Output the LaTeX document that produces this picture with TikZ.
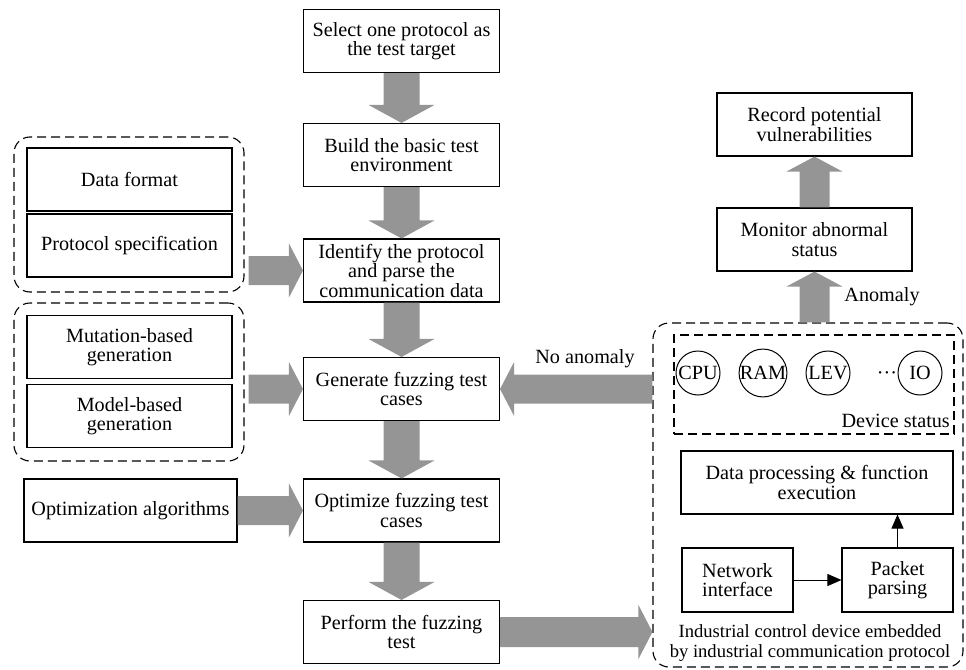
\documentclass[tikz,border=0pt]{standalone}
\usepackage{fontspec}
\setmainfont{Liberation Serif}
\usetikzlibrary{calc,arrows.meta}
\definecolor{fatgray}{HTML}{959595}
\newcommand\fatdown[5]{\fill[fatgray] ($(#1)+(-#3,0)$) -- ($(#2)+(-#3,-#5)$) -- ($(#2)+(-#4,-#5)$) -- (#2) -- ($(#2)+(#4,-#5)$) -- ($(#2)+(#3,-#5)$) -- ($(#1)+(#3,0)$) -- cycle;}
\newcommand\fatup[5]{\fill[fatgray] ($(#1)+(-#3,0)$) -- ($(#2)+(-#3,#5)$) -- ($(#2)+(-#4,#5)$) -- (#2) -- ($(#2)+(#4,#5)$) -- ($(#2)+(#3,#5)$) -- ($(#1)+(#3,0)$) -- cycle;}
\newcommand\fatright[5]{\fill[fatgray] ($(#1)+(0,-#3)$) -- ($(#2)+(-#5,-#3)$) -- ($(#2)+(-#5,-#4)$) -- (#2) -- ($(#2)+(-#5,#4)$) -- ($(#2)+(-#5,#3)$) -- ($(#1)+(0,#3)$) -- cycle;}
\newcommand\fatleft[5]{\fill[fatgray] ($(#1)+(0,-#3)$) -- ($(#2)+(#5,-#3)$) -- ($(#2)+(#5,-#4)$) -- (#2) -- ($(#2)+(#5,#4)$) -- ($(#2)+(#5,#3)$) -- ($(#1)+(0,#3)$) -- cycle;}
\begin{document}
\begin{tikzpicture}[x=1pt,y=-1pt,
  txt/.style={font=\fontsize{20.2}{19.5}\selectfont, align=center, inner sep=1pt},
  box/.style={txt, draw, line width=1.1pt, minimum height=63pt, inner sep=2pt},
  cbox/.style={box, minimum width=196pt},
  lbox/.style={box, minimum width=205pt},
  grp/.style={draw, line width=1.1pt, dash pattern=on 9pt off 5pt, rounded corners=16pt, inner sep=0pt},
  sgrp/.style={draw, line width=1.1pt, dash pattern=on 9pt off 5pt, inner sep=0pt},
  circ/.style={txt, draw, circle, line width=1pt, minimum size=44pt, inner sep=0pt},
  thin/.style={line width=1pt, -{Triangle[length=14pt,width=12pt]}}
]
\useasboundingbox (0,0) rectangle (966,669);

% centre column
\node[cbox] (b1) at (401.5,41)  {Select one protocol as\\the test target};
\node[cbox] (b2) at (401.5,155) {Build the basic test\\environment};
\node[cbox] (b3) at (401.5,270.5) {Identify the protocol\\and parse the\\communication data};
\node[cbox] (b4) at (401.5,389) {Generate fuzzing test\\cases};
\node[cbox] (b5) at (401.5,510.5) {Optimize fuzzing test\\cases};
\node[cbox] (b6) at (401.5,632) {Perform the fuzzing\\test};

% left column
\node[grp, minimum width=230pt, minimum height=155pt] (g1) at (129,214.5) {};
\node[grp, minimum width=230pt, minimum height=158pt] (g2) at (129,382) {};
\node[lbox] (df)  at (129.5,179.5) {Data format};
\node[lbox] (ps)  at (129.5,245.5) {Protocol specification};
\node[lbox] (mb)  at (129.5,347) {Mutation-based\\generation};
\node[lbox] (mob) at (129.5,416) {Model-based\\generation};
\node[box, minimum width=213pt] (opt) at (130.5,510.5) {Optimization algorithms};

% right side
\node[box, minimum width=195pt] (rec) at (814.5,124.5) {Record potential\\vulnerabilities};
\node[box, minimum width=195pt] (mon) at (814.5,239.5) {Monitor abnormal\\status};
\node[grp, minimum width=310pt, minimum height=344pt] (dev) at (808,495) {};
\node[sgrp, minimum width=280pt, minimum height=99pt] (ds) at (814,384.5) {};
\node[circ] (cpu) at (698,373) {CPU};
\node[circ] (ram) at (763,373) {RAM};
\node[circ] (lev) at (828,373) {LEV};
\node[txt] (dots) at (887,376) {···};
\node[circ] (io) at (920,373) {IO};
\node[txt, anchor=east] (dslab) at (951,421) {Device status};
\node[box, minimum width=272pt] (dp) at (817,482.5) {Data processing \& function\\execution};
\node[box, minimum width=111pt, minimum height=64pt] (ni) at (737.5,580) {Network\\interface};
\node[box, minimum width=111pt, minimum height=64pt] (pp) at (897.5,580) {Packet\\parsing};
\node[txt, font=\fontsize{18.6}{19.5}\selectfont] (devlab) at (810,643) {Industrial control device embedded\\by industrial communication protocol};

\draw[thin] (ni.east) -- (pp.west);
\draw[thin] (pp.north) -- (pp.north |- dp.south);

% fat arrows centre
\fatdown{b1.south}{b2.north}{18}{33}{18}
\fatdown{b2.south}{b3.north}{18}{33}{18}
\fatdown{b3.south}{b4.north}{18}{33}{18}
\fatdown{b4.south}{b5.north}{18}{33}{18}
\fatdown{b5.south}{b6.north}{18}{33}{18}

% fat arrows from left
\coordinate (a1s) at ($(g1.east |- b3.west)+(4,0)$);
\coordinate (a2s) at ($(g2.east |- b4.west)+(4,0)$);
\fatright{a1s}{b3.west}{14.5}{27}{14}
\fatright{a2s}{b4.west}{14.5}{27}{14}
\fatright{opt.east}{b5.west}{14.5}{27}{14}

% right arrows
\coordinate (pe) at (dev.west |- b6.east);
\fatright{b6.east}{pe}{15}{27}{14}
\coordinate (na) at (dev.west |- b4.east);
\fatleft{na}{b4.east}{14.5}{27}{14}
\coordinate (an) at (mon.south |- dev.north);
\fatup{an}{mon.south}{15}{28}{15}
\fatup{mon.north}{rec.south}{15}{28}{15}

\node[txt] (nalab) at (585,359) {No anomaly};
\node[txt] (anlab) at (882,297) {Anomaly};
\end{tikzpicture}
\end{document}
